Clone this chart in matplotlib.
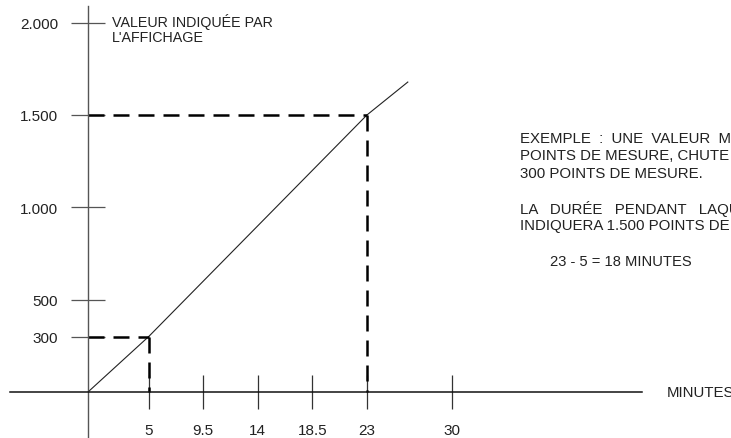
import matplotlib
matplotlib.use("Agg")
import matplotlib.pyplot as plt

plt.rcParams['font.family'] = ['Liberation Sans', 'DejaVu Sans']

# ---- data ----
x_ticks = [5, 9.5, 14, 18.5, 23, 30]
x_tick_labels = ["5", "9.5", "14", "18.5", "23", "30"]
y_ticks = [2000, 1500, 1000, 500, 300]
y_tick_labels = ["2.000", "1.500", "1.000", "500", "300"]
line_x = [0, 5, 23, 26.4]
line_y = [0, 300, 1500, 1680]
low_point = (5, 300)
high_point = (23, 1500)

y_label = "VALEUR INDIQUÉE PAR\nL'AFFICHAGE"
x_label = "MINUTES"
note_lines = [
    "EXEMPLE  :  UNE  VALEUR  MAXIMALE",
    "POINTS DE MESURE, CHUTE",
    "300 POINTS DE MESURE.",
    "",
    "LA   DURÉE   PENDANT   LAQUELLE",
    "INDIQUERA 1.500 POINTS DE MESURE",
]
result_text = "23 - 5 = 18 MINUTES"

# ---- figure ----
W, H = 731, 439
fig = plt.figure(figsize=(W / 100, H / 100), dpi=100)
ax = fig.add_axes([0, 0, 1, 1])
ax.patch.set_visible(False)

px_per_min = 12.13
px_per_unit = 0.1847
x0_px, y0_px = 88, 393
ax.set_xlim(-x0_px / px_per_min, (W - x0_px) / px_per_min)
ax.set_ylim((y0_px - H) / px_per_unit, y0_px / px_per_unit)

def px2x(p):
    return (p - x0_px) / px_per_min

def py2y(p):
    return (y0_px - p) / px_per_unit

for s in ["top", "right"]:
    ax.spines[s].set_visible(False)
ax.spines["left"].set_position(("data", 0))
ax.spines["bottom"].set_position(("data", 0))
ax.spines["left"].set_bounds(py2y(H), py2y(7))
ax.spines["bottom"].set_bounds(px2x(10), px2x(642))
ax.spines["left"].set_color("#555555")
ax.spines["left"].set_linewidth(1.0)
ax.spines["bottom"].set_color("#111111")
ax.spines["bottom"].set_linewidth(1.1)

ax.set_xticks(x_ticks)
ax.set_xticklabels(x_tick_labels)
ax.set_yticks(y_ticks)
ax.set_yticklabels(y_tick_labels)
ax.tick_params(axis="x", direction="inout", length=24, width=0.9, color="#333333",
               pad=10.5, labelsize=11, labelcolor="#222222")
ax.tick_params(axis="y", direction="inout", length=25, width=0.9, color="#555555",
               pad=9, labelsize=11, labelcolor="#222222")

# diagonal line
ax.plot(line_x, line_y, color="#222222", lw=0.8, solid_capstyle="butt")

# dashed guides
dash = (0, (6.4, 3.6))
lx, ly = low_point
hx, hy = high_point
ax.plot([0, lx], [ly, ly], color="black", lw=1.8, linestyle=dash)
ax.plot([lx, lx], [ly, 0], color="black", lw=1.8, linestyle=dash)
ax.plot([0, hx], [hy, hy], color="black", lw=1.8, linestyle=dash)
ax.plot([hx, hx], [hy, 0], color="black", lw=1.8, linestyle=dash)

# labels
ax.text(px2x(112), py2y(14), y_label, ha="left", va="top", fontsize=10.3,
        color="#222222", linespacing=1.1)
ax.text(px2x(667), 0, x_label, ha="left", va="center", fontsize=10.8, color="#222222")

y_px = 139
for line in note_lines:
    if line:
        ax.text(px2x(520), py2y(y_px), line, ha="left", va="center",
                fontsize=10.8, color="#222222")
    y_px += 17.5
ax.text(px2x(550), py2y(262), result_text, ha="left", va="center",
        fontsize=10.6, color="#222222")

fig.savefig("out.png", dpi=100)
